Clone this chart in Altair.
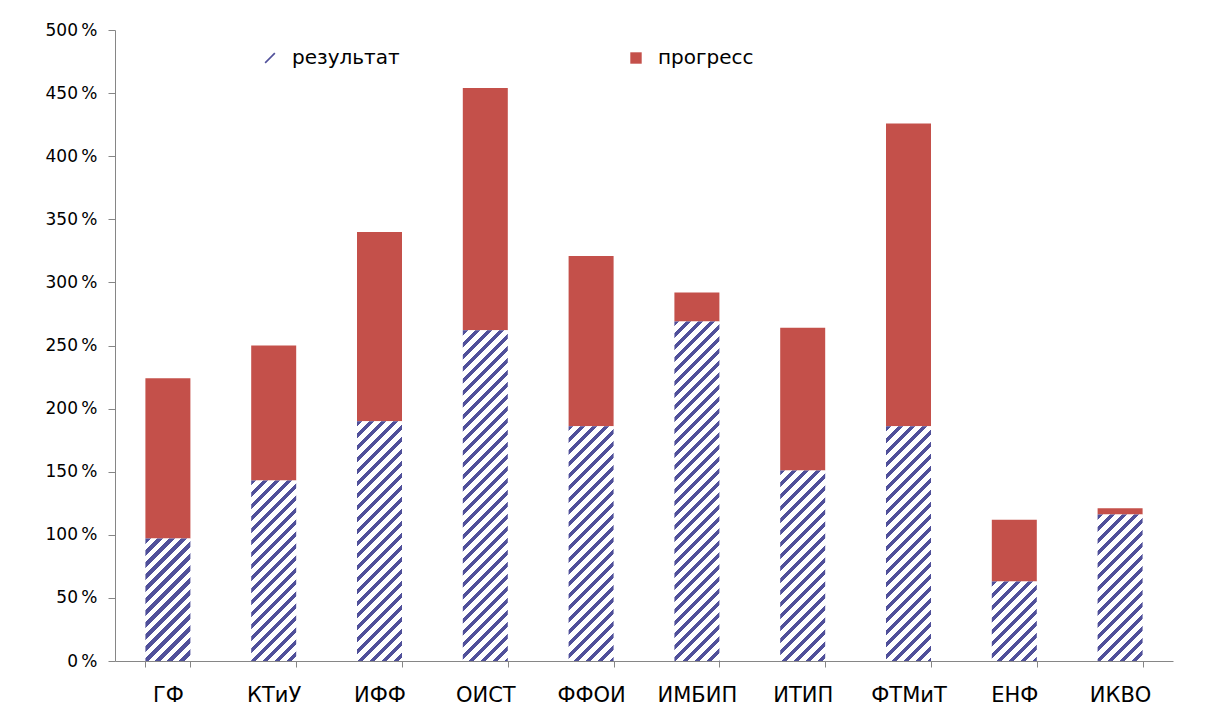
import altair as alt
import pandas as pd

# ---- data ----
categories = ["ГФ", "КТиУ", "ИФФ", "ОИСТ", "ФФОИ", "ИМБИП", "ИТИП", "ФТМиТ", "ЕНФ", "ИКВО"]
result = [0.97, 1.43, 1.90, 2.62, 1.86, 2.69, 1.51, 1.86, 0.63, 1.16]
total = [2.24, 2.50, 3.40, 4.54, 3.21, 2.92, 2.64, 4.26, 1.12, 1.21]
progress = [round(t - r, 2) for t, r in zip(total, result)]
series = ["результат", "прогресс"]
y_ticks = [0, 0.5, 1, 1.5, 2, 2.5, 3, 3.5, 4, 4.5, 5]

# ---- styling ----
PLOT_W, PLOT_H = 1058, 631
Y_MAX = 5
PAD_INNER = 0.5747
NAVY = "#50509a"
RED = "#C4504A"
AXIS_GRAY = "#868686"
FONT = "DejaVu Sans"

df = pd.DataFrame({"cat": categories, "result": result, "total": total, "progress": progress})

x_enc = alt.X("cat:N", sort=categories,
              scale=alt.Scale(domain=categories, paddingInner=PAD_INNER, paddingOuter=PAD_INNER / 2),
              axis=alt.Axis(title=None, labelAngle=0, tickBand="extent", labelFontSize=21,
                            labelFont=FONT, labelColor="black", labelPadding=17, tickSize=6,
                            domainColor=AXIS_GRAY, tickColor=AXIS_GRAY))
y_scale = alt.Scale(domain=[0, Y_MAX], nice=False)
y_axis = alt.Axis(title=None, values=y_ticks, grid=False, tickSize=7, labelPadding=11,
                  labelFontSize=17, labelFont=FONT, labelColor="black",
                  domainColor=AXIS_GRAY, tickColor=AXIS_GRAY,
                  labelExpr="format(datum.value*100, 'd') + '\u2009%'")

# red "progress" segments
prog = alt.Chart(df).mark_bar(color=RED).encode(
    x=x_enc,
    y=alt.Y("result:Q", scale=y_scale, axis=y_axis),
    y2="total:Q",
)

# hatched "result" segments: diagonal stripes via hard-stop linear gradient
step = PLOT_W / len(categories)
bar_w = step * (1 - PAD_INNER)
PERIOD = 12.0
DARK = 0.42 * PERIOD


def hatch(h):
    s = bar_w + h
    stops = []
    k = 0
    while k * PERIOD < s:
        a = min(k * PERIOD / s, 1)
        b = min((k * PERIOD + DARK) / s, 1)
        c = min((k + 1) * PERIOD / s, 1)
        stops += [alt.GradientStop(offset=round(a, 5), color=NAVY),
                  alt.GradientStop(offset=round(b, 5), color=NAVY),
                  alt.GradientStop(offset=round(b, 5), color="white"),
                  alt.GradientStop(offset=round(c, 5), color="white")]
        k += 1
    n = bar_w ** 2 + h ** 2
    return alt.LinearGradient(gradient="linear", stops=stops, x1=0, y1=0,
                              x2=round(bar_w * s / n, 5), y2=round(h * s / n, 5))


hatch_layers = []
for c, r in zip(categories, result):
    h = r / Y_MAX * PLOT_H
    hatch_layers.append(
        alt.Chart(df).transform_filter(alt.datum.cat == c).mark_bar(fill=hatch(h)).encode(
            x=x_enc, y=alt.Y("result:Q", scale=y_scale, axis=y_axis)
        )
    )

# legend (its point marks sit off-canvas; only the legend is seen)
SLASH = "M-0.95,0.75L0.75,-0.95L0.95,-0.75L-0.75,0.95Z"
leg_df = pd.DataFrame({"series": series})
legend_layer = alt.Chart(leg_df).mark_point(filled=True, opacity=1).encode(
    x=alt.value(-3000), y=alt.value(-3000),
    color=alt.Color("series:N", scale=alt.Scale(domain=series, range=[NAVY, RED]),
                    legend=alt.Legend(title=None, orient="none", direction="horizontal",
                                      legendX=145, legendY=18, symbolSize=130,
                                      symbolStrokeWidth=0, labelFontSize=20, labelFont=FONT,
                                      labelColor="black", labelOffset=12, columnPadding=226,
                                      padding=0)),
    shape=alt.Shape("series:N", scale=alt.Scale(domain=series, range=[SLASH, "square"])),
)

chart = alt.layer(prog, *hatch_layers, legend_layer).properties(
    width=PLOT_W, height=PLOT_H, autosize="none",
    padding={"left": 107, "top": 22, "right": 24, "bottom": 50},
).configure(background="white").configure_view(stroke=None)

chart.save("out.html", embed_options={"renderer": "svg", "actions": False})
